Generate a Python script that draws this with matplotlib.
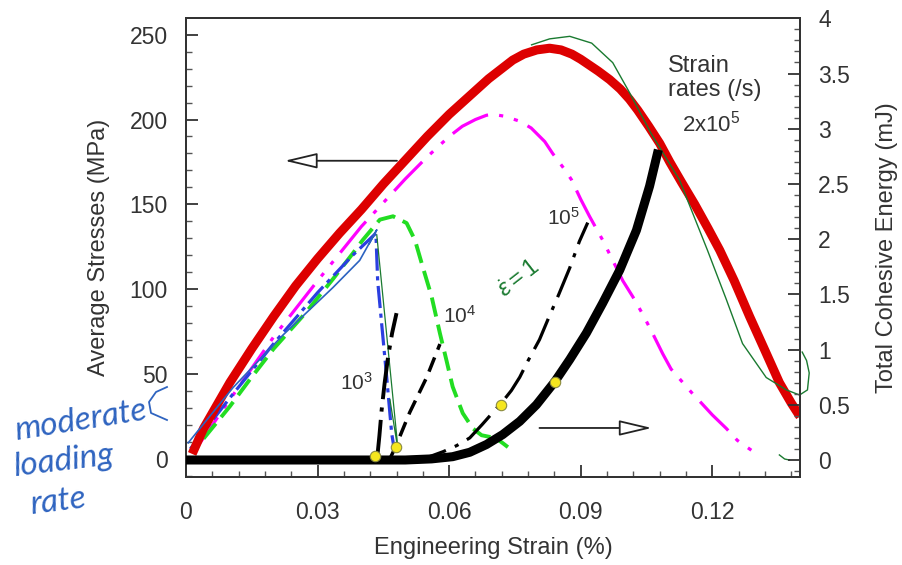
import matplotlib
matplotlib.use("Agg")
import matplotlib.pyplot as plt
from matplotlib.ticker import MultipleLocator, FixedLocator
from matplotlib.lines import Line2D

plt.rcParams['font.family'] = ['Liberation Sans', 'DejaVu Sans']
plt.rcParams['mathtext.fontset'] = 'custom'
plt.rcParams['mathtext.rm'] = 'Liberation Sans'
plt.rcParams['mathtext.it'] = 'Liberation Sans:italic'
plt.rcParams['lines.scale_dashes'] = False

TXT = '#333333'

# ---- average stress curves (MPa) vs engineering strain (%) ----
red_x = [0.0014, 0.004, 0.01, 0.015, 0.02, 0.025, 0.03, 0.035, 0.04, 0.045, 0.05,
         0.055, 0.06, 0.063, 0.066, 0.069, 0.072, 0.0745, 0.077, 0.08, 0.0829,
         0.0855, 0.088, 0.09, 0.092, 0.094, 0.0966, 0.099, 0.1011, 0.103, 0.1055,
         0.108, 0.1103, 0.113, 0.116, 0.119, 0.1217, 0.125, 0.1285, 0.132, 0.1353,
         0.138, 0.14]
red_s = [3, 18, 45, 65, 84, 102, 118, 133, 147, 162, 176,
         190, 203, 210, 217, 224, 230, 235, 238.5, 241, 242,
         241, 238.5, 235.5, 232, 228.5, 223.5, 218, 212, 205.5, 196,
         186, 175, 163, 150, 136, 123, 105, 84, 64, 45,
         33, 25]

mag_x = [0.002, 0.01, 0.02, 0.03, 0.04, 0.05, 0.055, 0.06, 0.063, 0.066, 0.0685,
         0.07, 0.0725, 0.0761, 0.0787, 0.0818, 0.0836, 0.0865, 0.0879, 0.09, 0.092,
         0.095, 0.0973, 0.0996, 0.1019, 0.1042, 0.1064, 0.1087, 0.1106, 0.1133,
         0.1155, 0.1175, 0.12, 0.1232, 0.1257, 0.129]
mag_s = [5, 35, 72, 105, 137, 165, 178, 190, 196, 200, 202.5,
         203, 202, 199, 195, 187, 180, 170, 164.5, 153, 143,
         129, 117, 105, 95.5, 85, 74, 62, 53, 45,
         38.5, 33, 26, 18, 11, 5]

grn_x = [0.004, 0.01, 0.0146, 0.02, 0.0269, 0.0335, 0.038, 0.0403, 0.0442, 0.0472,
         0.0503, 0.0522, 0.054, 0.056, 0.0579, 0.0594, 0.0608, 0.0631, 0.0654,
         0.0674, 0.0693, 0.0708, 0.0722, 0.0734]
grn_s = [12, 31, 47, 65, 85, 106, 121, 129, 141, 143,
         139, 129, 113, 95.7, 74, 58, 42.6, 27, 18,
         14, 13, 12, 9.4, 7]

blu_x = [0.001, 0.01, 0.02, 0.03, 0.038, 0.0433, 0.0437, 0.0446, 0.0458, 0.0469, 0.0476]
blu_s = [6, 36, 68, 98, 120, 133, 105, 80, 47, 15, 4]

# ---- total cohesive energy curves (mJ) ----
e3_x = [0.0428, 0.0434, 0.0437, 0.0441, 0.0446, 0.0453, 0.0461, 0.047, 0.048]
e3_e = [0.0, 0.02, 0.06, 0.22, 0.45, 0.70, 0.94, 1.15, 1.33]

e4_x = [0.0466, 0.0478, 0.051, 0.0549, 0.0579]
e4_e = [0.02, 0.12, 0.43, 0.75, 1.05]

e5_x = [0.052, 0.0555, 0.0586, 0.0617, 0.0647, 0.0675, 0.0704, 0.072, 0.0742, 0.0761,
        0.078, 0.0806, 0.0825, 0.085, 0.0875, 0.0897, 0.0916]
e5_e = [0.0, 0.03, 0.075, 0.13, 0.2, 0.32, 0.45, 0.52, 0.63, 0.75,
        0.90, 1.09, 1.27, 1.50, 1.74, 1.98, 2.15]

e2_x = [0.0, 0.05, 0.056, 0.0608, 0.0647, 0.0685, 0.0722, 0.0761, 0.0799, 0.0841,
        0.0875, 0.0913, 0.095, 0.0989, 0.1027, 0.1057, 0.1077]
e2_e = [0.0, 0.0, 0.01, 0.03, 0.07, 0.14, 0.23, 0.35, 0.50, 0.71,
        0.91, 1.15, 1.42, 1.72, 2.08, 2.48, 2.81]

dot_x = [0.0431, 0.0478, 0.0719, 0.0841]
dot_e = [0.036, 0.12, 0.50, 0.71]

# ---- pen notes drawn over the plot ----
pen_red_x = [0.0788, 0.0829, 0.0875, 0.0925, 0.0973, 0.1011, 0.1060, 0.1125, 0.1189,
             0.1232, 0.1269, 0.1323, 0.1369, 0.1399, 0.1417, 0.1421, 0.1415, 0.1405]
pen_red_s = [244, 247.5, 249, 245, 233.5, 216, 192, 164.5, 123,
             94, 68, 48, 40.7, 37.7, 40.7, 50.7, 58, 63]
pen_tick_x = [0.1353, 0.1365, 0.1376]
pen_tick_s = [2.4, 0.0, -0.6]
pen_blue_x = [0.0005, 0.0107, 0.0221, 0.0335, 0.0396, 0.0435, 0.0418]
pen_blue_s = [9.5, 42, 73, 101, 117, 135, 127]
pen_drop_x = [0.0435, 0.0484, 0.0465]
pen_drop_s = [132, 4.3, 35]

fig = plt.figure(figsize=(9.02, 5.65), dpi=100)
ax = fig.add_axes([186 / 902, 1 - 477 / 565, 614 / 902, 459 / 565])
ax2 = ax.twinx()

ax.plot(mag_x, mag_s, color='#FF00FF', lw=2.3, dashes=(29, 8, 3, 8, 3, 8), zorder=3)
ax.plot(grn_x, grn_s, color='#22DD22', lw=2.8, dashes=(14, 6), zorder=3)
ax.plot(blu_x, blu_s, color='#2B3FE0', lw=2.3, dashes=(16, 4, 3, 4), zorder=3)
ax.plot(red_x, red_s, color='#DD0000', lw=6.5, solid_capstyle='butt',
        solid_joinstyle='round', zorder=4)

ax.plot(pen_red_x, pen_red_s, color='#1a7a30', lw=1.0, zorder=6, clip_on=False)
ax.plot(pen_tick_x, pen_tick_s, color='#1a7a30', lw=1.0, zorder=6)
ax.plot(pen_blue_x, pen_blue_s, color='#2c62c0', lw=1.2, zorder=6)
ax.plot(pen_drop_x, pen_drop_s, color='#1a7a30', lw=0.9, zorder=6)

ax2.plot(e2_x, e2_e, color='black', lw=6.5, solid_capstyle='butt',
         solid_joinstyle='round', zorder=3)
ax2.plot(e3_x, e3_e, color='black', lw=2.8, dashes=(30, 6, 3, 6), zorder=4)
ax2.plot(e4_x, e4_e, color='black', lw=2.5, dashes=(11, 6), zorder=4)
ax2.plot(e5_x, e5_e, color='black', lw=2.3, dashes=(24, 7, 3, 7), zorder=4)
ax2.plot(dot_x, dot_e, ls='none', marker='o', ms=7.5, mfc='#F5E61E', mec='#8a8a40',
         mew=0.8, zorder=6)

# axes ranges and ticks
ax.set_xlim(0, 0.14)
ax.set_ylim(-10.6, 259.8)
ax2.set_ylim(-0.154, 4.003)
ax.xaxis.set_major_locator(FixedLocator([0, 0.03, 0.06, 0.09, 0.12]))
ax.set_xticklabels(['0', '0.03', '0.06', '0.09', '0.12'])
ax.xaxis.set_minor_locator(MultipleLocator(0.006))
ax.yaxis.set_major_locator(MultipleLocator(50))
ax.yaxis.set_minor_locator(MultipleLocator(10))
ax2.yaxis.set_major_locator(FixedLocator([0, 0.5, 1, 1.5, 2, 2.5, 3, 3.5, 4]))
ax2.set_yticklabels(['0', '0.5', '1', '1.5', '2', '2.5', '3', '3.5', '4'])
ax2.yaxis.set_minor_locator(MultipleLocator(0.1))

for a in (ax, ax2):
    a.tick_params(which='major', direction='in', length=8.5, width=1.3, color='#333333',
                  labelsize=16.5, labelcolor=TXT, pad=13)
    a.tick_params(which='minor', direction='in', length=4.5, width=1.0, color='#555555')
    for sp in a.spines.values():
        sp.set_color('#333333')
        sp.set_linewidth(1.4)
ax.tick_params(axis='x', pad=17)

ax.set_xlabel('Engineering Strain (%)', fontsize=17, color=TXT, va='center')
ax.xaxis.set_label_coords(0.5, -0.155)
ax.set_ylabel('Average Stresses (MPa)', fontsize=17, color=TXT, va='center')
ax.yaxis.set_label_coords(-0.141, 0.5)
ax2.set_ylabel('Total Cohesive Energy (mJ)', fontsize=17, color=TXT, va='center')
ax2.yaxis.set_label_coords(1.142, 0.5)

# rate labels
ax.text(0.1098, 228, 'Strain', fontsize=17, color=TXT)
ax.text(0.1098, 214, 'rates (/s)', fontsize=17, color=TXT)
ax.text(0.1198, 193, r'2x10$^5$', fontsize=16, color=TXT, ha='center')
ax.text(0.0822, 138, r'10$^5$', fontsize=15, color=TXT)
ax.text(0.0585, 80, r'10$^4$', fontsize=15, color=TXT)
ax.text(0.0351, 40.7, r'10$^3$', fontsize=15, color=TXT)

# axis pointers
arrow_style = dict(arrowstyle='-|>,head_length=1.35,head_width=0.32', fc='white',
                   ec='#222222', lw=1.3, mutation_scale=15, shrinkA=0, shrinkB=0)
ax.annotate('', xy=(0.0225, 175.7), xytext=(0.0481, 175.7), arrowprops=arrow_style)
ax2.annotate('', xy=(0.1062, 0.29), xytext=(0.0806, 0.29), arrowprops=arrow_style)

# handwritten notes
hand = dict(color='#2f64c0', fontsize=24, family=['Lato', 'DejaVu Sans'],
            style='italic', weight='normal')
fig.text(12 / 902, 1 - 440 / 565, 'moderate', rotation=9, **hand)
fig.text(12 / 902, 1 - 476 / 565, 'loading', rotation=7, **hand)
fig.text(28 / 902, 1 - 514 / 565, 'rate', rotation=7, **hand)
curl_px = [(167, 387), (156, 392), (149, 402), (151, 413), (167, 420)]
fig.add_artist(Line2D([p[0] / 902 for p in curl_px], [1 - p[1] / 565 for p in curl_px],
                      transform=fig.transFigure, color='#2f64c0', lw=1.3))
fig.text(494 / 902, 1 - 297 / 565, r'$\dot{\varepsilon}=1$', rotation=38,
         color='#1a7a30', fontsize=17)

fig.savefig('out.png', dpi=100)
